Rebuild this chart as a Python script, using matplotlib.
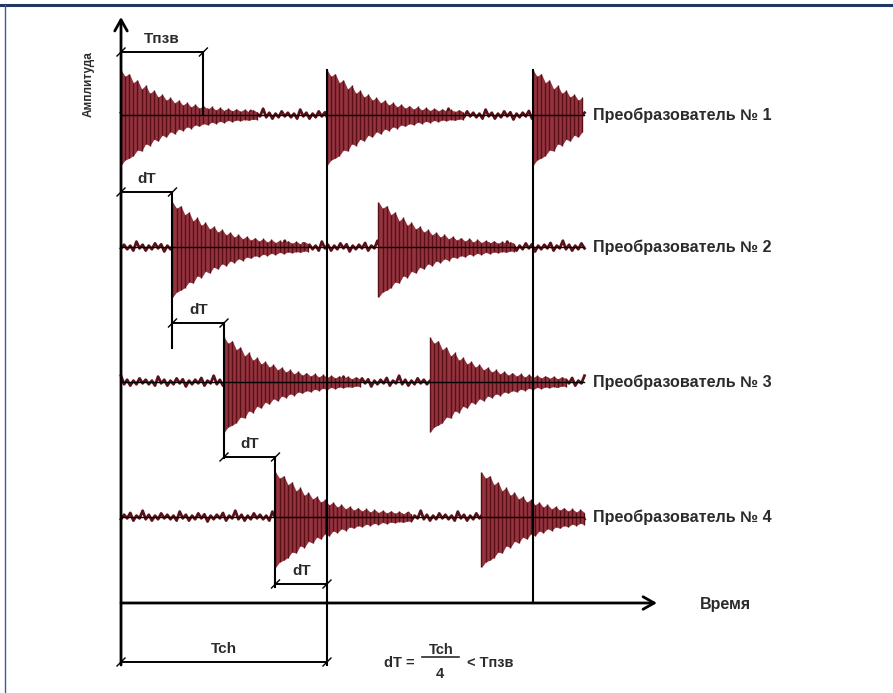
import matplotlib.pyplot as plt
import numpy as np

plt.rcParams['font.family'] = ['Liberation Sans', 'DejaVu Sans']

# --- data (time in dT units, amplitude relative to first peak) ---
row_labels = ["Преобразователь № 1", "Преобразователь № 2",
              "Преобразователь № 3", "Преобразователь № 4"]
burst_starts = [[0, 4, 8], [1, 5], [2, 6], [3, 7]]
t_end = 9.0
dT = 1.0
Tch = 4.0
t_pzv = 1.6

# burst envelope, one value per 0.08 time step
env_step = 0.08
env_top = [1.00, 0.86, 0.92, 0.72, 0.78, 0.58, 0.66, 0.48, 0.55, 0.40,
           0.46, 0.33, 0.39, 0.27, 0.33, 0.22, 0.28, 0.18, 0.24, 0.15,
           0.21, 0.13, 0.19, 0.11, 0.17, 0.10, 0.15, 0.09, 0.14, 0.08,
           0.13, 0.07, 0.12, 0.07]
env_bot = [1.12, 1.00, 0.96, 0.90, 0.78, 0.80, 0.64, 0.68, 0.54, 0.58,
           0.45, 0.49, 0.37, 0.42, 0.31, 0.35, 0.26, 0.30, 0.22, 0.25,
           0.19, 0.22, 0.16, 0.19, 0.14, 0.17, 0.12, 0.15, 0.11, 0.13,
           0.10, 0.12, 0.09, 0.10]

# background noise pattern, one value per 0.06 time step
noise_step = 0.06
noise = [0.05, -0.08, 0.03, -0.05, 0.08, -0.03, 0.06, -0.10, 0.03, -0.05,
         0.05, -0.03, 0.09, -0.08, 0.03, -0.03, 0.14, -0.05, 0.05, -0.08,
         0.03, -0.05, 0.08, -0.03, 0.05, -0.05, 0.03, -0.08, 0.12, -0.03]

# --- layout (pixels) ---
W, H = 893, 693
X0 = 121          # pixel x of t = 0
PX_T = 51.5       # pixels per dT
AMP = 45          # pixels per unit amplitude
row_y = [115, 247, 382, 517]
axis_y = 603

fill_c = '#93343e'
stripe_c = '#5a0f17'
noise_c = '#5a1218'
txt_c = '#2b2b2b'


def px(x):
    return (x - X0) / PX_T


fig = plt.figure(figsize=(W / 100, H / 100), dpi=100)
ax = fig.add_axes([0, 0, 1, 1])
ax.set_xlim(px(0), px(W))
ax.set_ylim(H, 0)
ax.axis('off')

top = np.array(env_top)
bot = np.array(env_bot)
for i, base in enumerate(row_y):
    n = int(round(t_end / noise_step)) + 1
    tn = np.arange(n) * noise_step
    vals = np.resize(np.roll(noise, 7 * i), n)
    ax.plot(tn, base - vals * AMP, color=noise_c, lw=2.0, zorder=2)
    for s in burst_starts[i]:
        tb = s + np.arange(len(top)) * env_step
        m = tb <= t_end
        ax.fill_between(tb[m], base - top[m] * AMP, base + bot[m] * AMP,
                        color=fill_c, lw=0, zorder=3)
        ax.vlines(tb[m], base - top[m] * AMP, base + bot[m] * AMP,
                  color=stripe_c, lw=1.0, zorder=3)
    ax.plot([0, t_end], [base, base], color='black', lw=1.0, zorder=4)
    ax.text(px(593), base, row_labels[i], ha='left', va='center',
            fontsize=11.6, fontweight='bold', color=txt_c)

# axes with arrows
arrow = dict(arrowstyle='->,head_length=0.8,head_width=0.45', lw=2,
             color='black', shrinkA=0, shrinkB=0)
ax.annotate('', xy=(0, 17), xytext=(0, 665), arrowprops=arrow, zorder=5)
ax.annotate('', xy=(px(657), axis_y), xytext=(0, axis_y), arrowprops=arrow, zorder=5)
ax.text(px(700), axis_y + 1, "Время", ha='left', va='center',
        fontsize=11.5, fontweight='bold', color=txt_c)
ax.text(px(89), 84, "Амплитуда", rotation=90, ha='center', va='center',
        fontsize=8.5, fontweight='bold', color=txt_c)

# period lines
ax.plot([Tch, Tch], [row_y[0] - AMP, 665], color='black', lw=1.5, zorder=5)
ax.plot([2 * Tch, 2 * Tch], [row_y[0] - AMP, axis_y], color='black', lw=1.5, zorder=5)

# extension lines of dimensions
ax.plot([t_pzv, t_pzv], [52, row_y[0]], color='black', lw=1.5, zorder=5)
ax.plot([dT, dT], [192, 348], color='black', lw=1.5, zorder=5)
ax.plot([2 * dT, 2 * dT], [323, 458], color='black', lw=1.5, zorder=5)
ax.plot([3 * dT, 3 * dT], [457, 587], color='black', lw=1.5, zorder=5)


def dim(t0, t1, y, label):
    ax.plot([t0, t1], [y, y], color='black', lw=1.4, zorder=5)
    for t in (t0, t1):
        ax.plot([t - 4 / PX_T, t + 4 / PX_T], [y + 4, y - 4],
                color='black', lw=1.0, zorder=5)
    ax.text((t0 + t1) / 2, y - 9, label, ha='center', va='baseline',
            fontsize=11, fontweight='bold', color=txt_c)


dim(0, t_pzv, 52, "Tпзв")
dim(0, dT, 192, "dT")
dim(dT, 2 * dT, 323, "dT")
dim(2 * dT, 3 * dT, 457, "dT")
dim(3 * dT, 4 * dT, 584, "dT")
dim(0, Tch, 662, "Tch")

# formula
ax.text(px(399), 663, "dT =", ha='center', va='center', fontsize=10.5,
        fontweight='bold', color=txt_c)
ax.text(px(441), 650, "Tch", ha='center', va='center', fontsize=10.5,
        fontweight='bold', color=txt_c)
ax.plot([px(422), px(459)], [657, 657], color=txt_c, lw=1.2)
ax.text(px(440), 674, "4", ha='center', va='center', fontsize=10.5,
        fontweight='bold', color=txt_c)
ax.text(px(467), 663, "< Tпзв", ha='left', va='center', fontsize=10.5,
        fontweight='bold', color=txt_c)

# frame of the figure
ax.plot([px(0), px(W)], [5, 5], color='#1f3864', lw=2.2)
ax.plot([px(5), px(5)], [5, H], color='#3c5a99', lw=1.0)

plt.savefig('out.png', dpi=100)
